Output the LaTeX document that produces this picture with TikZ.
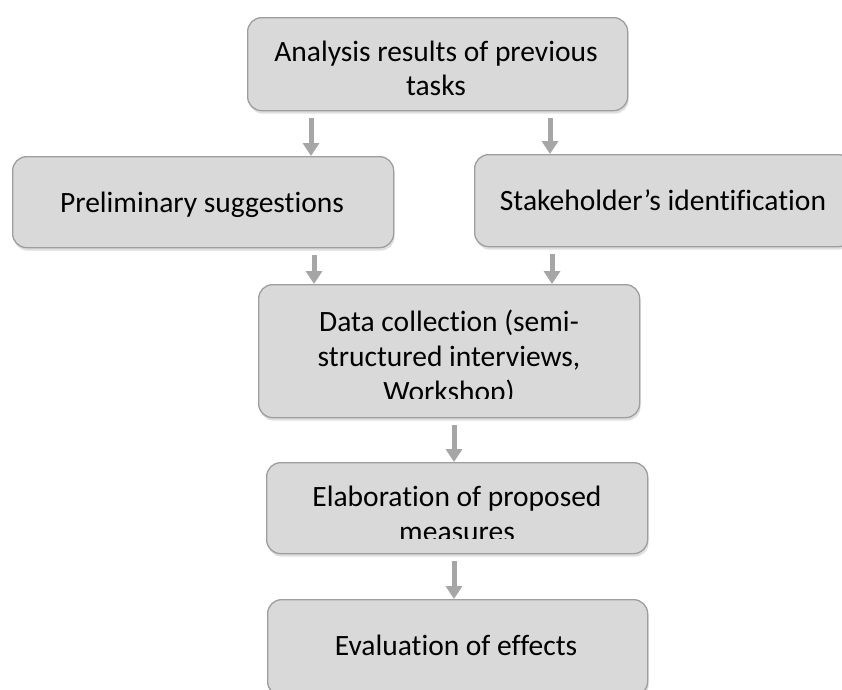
\documentclass[tikz,border=0pt]{standalone}
\usepackage{fontspec}
\setmainfont{Carlito}[Ligatures={NoCommon}]
\usetikzlibrary{arrows.meta,shadows}
\definecolor{boxfill}{RGB}{217,217,217}
\definecolor{boxline}{RGB}{158,158,158}
\definecolor{arrgray}{RGB}{166,166,166}
\begin{document}
\begin{tikzpicture}[x=1pt,y=-1pt,
  box/.style={draw=boxline, line width=1.3pt, fill=boxfill, rounded corners=14pt,
    drop shadow={shadow xshift=1pt, shadow yshift=-3pt, opacity=0.25},
    inner sep=0pt, anchor=north west},
  lbl/.style={font=\fontsize{29.5}{35}\selectfont, inner sep=0pt, anchor=base},
  flow/.style={draw=arrgray, line width=5pt, -{Triangle[width=16pt,length=13pt]}, shorten <=7pt}]
\clip (0,0) rectangle (842,689);
\fill[white] (0,0) rectangle (842,689);
% boxes
\node[box, minimum width=380pt, minimum height=93pt] (top) at (247,17) {};
\node[box, minimum width=381pt, minimum height=91pt] (pre) at (12,156) {};
\node[box, minimum width=378pt, minimum height=92pt] (stake) at (474,154) {};
\node[box, minimum width=381pt, minimum height=133pt] (data) at (258,284) {};
\node[box, minimum width=381pt, minimum height=91pt] (elab) at (266,462) {};
\node[box, minimum width=380pt, minimum height=96pt] (eval) at (267,599) {};
% labels
\node[lbl] (t1) at (436,61) {Analysis results of previous};
\node[lbl] (t2) at (436,95) {tasks};
\node[lbl] (p1) at (202,212) {Preliminary suggestions};
\node[lbl] (s1) at (663,210) {Stakeholder’s identification};
\begin{scope}
  \clip (258,284) rectangle (639,398);
  \node[lbl] (d1) at (449,331) {Data collection (semi-};
  \node[lbl] (d2) at (449,366) {structured interviews,};
  \node[lbl] (d3) at (449,401) {Workshop)};
\end{scope}
\begin{scope}
  \clip (266,462) rectangle (647,538);
  \node[lbl] (e1) at (457,506) {Elaboration of proposed};
  \node[lbl] (e2) at (457,541) {measures};
\end{scope}
\node[lbl] (v1) at (456,655) {Evaluation of effects};
% connectors
\coordinate (xa) at (311,0);
\coordinate (xb) at (550,0);
\coordinate (xc) at (314,0);
\coordinate (xd) at (552,0);
\coordinate (xe) at (454,0);
\draw[flow] (top.south -| xa) -- (pre.north -| xa);
\draw[flow] (top.south -| xb) -- (stake.north -| xb);
\draw[flow] (pre.south -| xc) -- (data.north -| xc);
\draw[flow] (stake.south -| xd) -- (data.north -| xd);
\draw[flow] (data.south -| xe) -- (elab.north -| xe);
\draw[flow] (elab.south -| xe) -- (eval.north -| xe);
\end{tikzpicture}
\end{document}
